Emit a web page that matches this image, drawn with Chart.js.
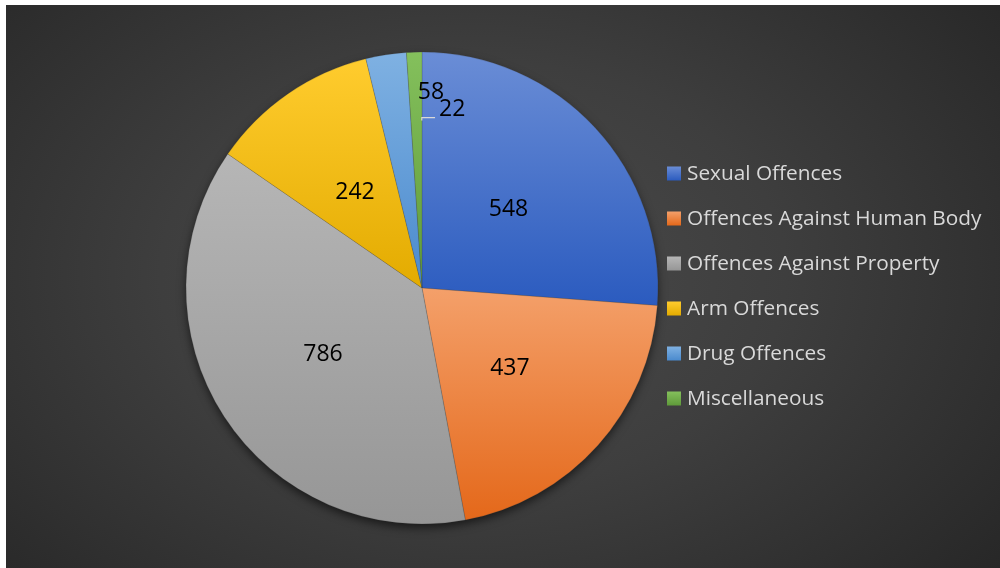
<!DOCTYPE html>
<html>
<head>
<meta charset="utf-8">
<script src="https://cdn.jsdelivr.net/npm/chart.js@4.4.1/dist/chart.umd.min.js"></script>
<style>
  html, body { margin: 0; padding: 0; background: #ffffff; }
  #wrap { position: relative; width: 1000px; height: 568px; overflow: hidden; background: #ffffff; }
  #frame { position: absolute; left: 6px; top: 5px; right: 0; bottom: 0;
    background: radial-gradient(ellipse 70% 85% at 47% 48%, #4b4b4b 0%, #3e3e3e 45%, #262626 100%); }
  #c { position: absolute; left: 0; top: 0; }
</style>
</head>
<body>
<div id="wrap">
  <div id="frame"></div>
  <canvas id="c" width="1000" height="568"></canvas>
</div>
<script>
const categories = ["Sexual Offences", "Offences Against Human Body", "Offences Against Property", "Arm Offences", "Drug Offences", "Miscellaneous"];
const values = [548, 437, 786, 242, 58, 22];

// styling (kept separate from data)
const lightColors = ["#6a8dd6", "#f4a06a", "#b6b6b6", "#ffcc2e", "#7fb1e2", "#84c05c"];
const darkColors  = ["#2b5bbf", "#e4681a", "#969696", "#e3ab00", "#4a8ace", "#5f9a3a"];
const midColors   = ["#4472c4", "#ed7d31", "#a5a5a5", "#ffc000", "#5b9bd5", "#70ad47"];

const gradientPlugin = {
  id: 'sliceGradient',
  beforeDatasetsDraw(chart) {
    const ctx = chart.ctx;
    const meta = chart.getDatasetMeta(0);
    if (meta.data.length) {
      const a0 = meta.data[0];
      ctx.save();
      ctx.shadowColor = 'rgba(0,0,0,0.6)';
      ctx.shadowBlur = 10;
      ctx.shadowOffsetY = 4;
      ctx.fillStyle = '#555';
      ctx.beginPath();
      ctx.arc(a0.x, a0.y, a0.outerRadius - 0.5, 0, Math.PI * 2);
      ctx.fill();
      ctx.restore();
    }
    meta.data.forEach((arc, i) => {
      const s = arc.startAngle, e = arc.endAngle, r = arc.outerRadius;
      const ys = [arc.y, arc.y + r * Math.sin(s), arc.y + r * Math.sin(e)];
      const inRange = (ang) => {
        for (let k = -2; k <= 2; k++) { const t = ang + k * 2 * Math.PI; if (t >= s && t <= e) return true; }
        return false;
      };
      if (inRange(-Math.PI / 2)) ys.push(arc.y - r);
      if (inRange(Math.PI / 2)) ys.push(arc.y + r);
      const y0 = Math.min(...ys), y1 = Math.max(...ys);
      const g = ctx.createLinearGradient(0, y0, 0, Math.max(y1, y0 + 1));
      g.addColorStop(0, lightColors[i]);
      g.addColorStop(1, darkColors[i]);
      arc.options.backgroundColor = g;
      arc.options.borderColor = 'rgba(60,60,60,0.35)';
      arc.options.borderWidth = 0.6;
    });
  }
};

const labelPlugin = {
  id: 'sliceLabels',
  afterDatasetsDraw(chart, args, opts) {
    const ctx = chart.ctx;
    const meta = chart.getDatasetMeta(0);
    const data = chart.data.datasets[0].data;
    ctx.save();
    ctx.font = '23px "Open Sans"';
    ctx.fillStyle = '#000000';
    ctx.textAlign = 'center';
    ctx.textBaseline = 'middle';
    meta.data.forEach((arc, i) => {
      const ov = opts.overrides[i];
      let ang, rf;
      if (ov) { ang = -Math.PI / 2 + ov.angleDeg * Math.PI / 180; rf = ov.r; }
      else { ang = (arc.startAngle + arc.endAngle) / 2; rf = opts.radiusFraction; }
      const x = arc.x + Math.cos(ang) * arc.outerRadius * rf;
      const y = arc.y + Math.sin(ang) * arc.outerRadius * rf + opts.dy;
      const txt = String(data[i]);
      ctx.fillText(txt, x, y);
      if (ov && ov.leader) {
        const w = ctx.measureText(txt).width;
        const ax = arc.x + Math.cos(arc.endAngle - 0.001) * arc.outerRadius * 0.71;
        const ay = arc.y + Math.sin(arc.endAngle - 0.001) * arc.outerRadius * 0.71;
        ctx.save();
        ctx.strokeStyle = '#d9d9d9';
        ctx.lineWidth = 1.2;
        ctx.beginPath();
        ctx.moveTo(ax, ay);
        ctx.lineTo(ax, y + 8);
        ctx.lineTo(x - w / 2 - 4, y + 8);
        ctx.stroke();
        ctx.restore();
      }
    });
    ctx.restore();
  }
};

const legendPlugin = {
  id: 'sideLegend',
  afterDraw(chart, args, opts) {
    const ctx = chart.ctx;
    const area = chart.chartArea;
    const cy = (area.top + area.bottom) / 2;
    const n = chart.data.labels.length;
    const left = area.right + opts.gap;
    ctx.save();
    ctx.font = opts.fontSize + 'px "Open Sans"';
    ctx.textBaseline = 'middle';
    ctx.textAlign = 'left';
    chart.data.labels.forEach((lab, i) => {
      const y = cy - ((n - 1) / 2) * opts.spacing + i * opts.spacing - 2;
      const g = ctx.createLinearGradient(0, y - 7, 0, y + 7);
      g.addColorStop(0, lightColors[i]);
      g.addColorStop(1, darkColors[i]);
      ctx.fillStyle = g;
      ctx.fillRect(left, y - 7, 14, 14);
      ctx.fillStyle = '#d9d9d9';
      ctx.fillText(lab, left + 20, y + 1);
    });
    ctx.restore();
  }
};

new Chart(document.getElementById('c'), {
  type: 'pie',
  data: {
    labels: categories,
    datasets: [{
      data: values,
      backgroundColor: midColors,
      borderWidth: 0,
      hoverOffset: 0
    }]
  },
  plugins: [gradientPlugin, labelPlugin, legendPlugin],
  options: {
    responsive: false,
    animation: false,
    events: [],
    layout: { padding: { left: 186, right: 342, top: 52, bottom: 44 } },
    plugins: {
      legend: { display: false },
      tooltip: { enabled: false },
      title: { display: false },
      sliceLabels: {
        radiusFraction: 0.5,
        dy: 2,
        overrides: {
          4: { angleDeg: 2.6, r: 0.84 },
          5: { angleDeg: 9.5, r: 0.775, leader: true }
        }
      },
      sideLegend: { gap: 9, spacing: 45, fontSize: 20.8 }
    }
  }
});
</script>
</body>
</html>
